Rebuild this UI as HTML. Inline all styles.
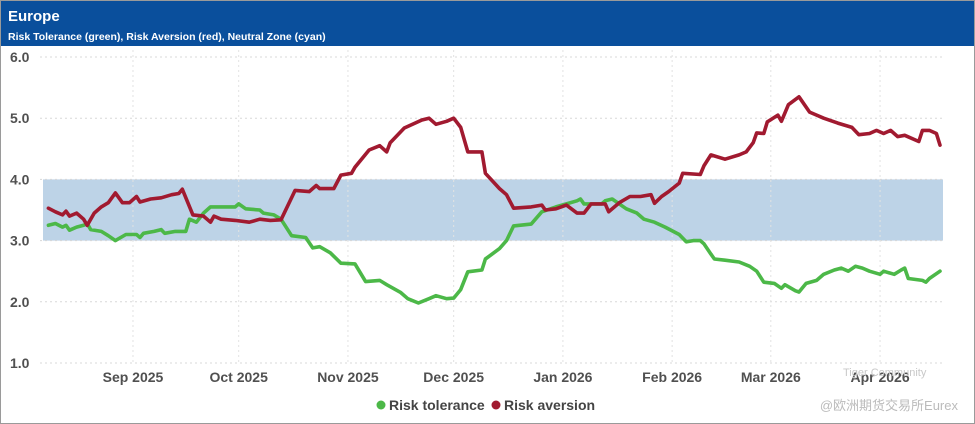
<!DOCTYPE html>
<html><head><meta charset="utf-8"><style>
body{margin:0;background:#fff;font-family:"Liberation Sans","Noto Sans CJK SC",sans-serif;}
#wrap{position:relative;width:975px;height:424px;overflow:hidden;}
</style></head><body>
<div id="wrap">
<svg id="chart" width="975" height="424"></svg>
</div>
<script>
const monthDays=[24,54,85,115,146,177,205,236];
const monthLabels=["Sep 2025","Oct 2025","Nov 2025","Dec 2025","Jan 2026","Feb 2026","Mar 2026","Apr 2026"];
const yTicks=[1,2,3,4,5,6];
const yTickLabels=["1.0","2.0","3.0","4.0","5.0","6.0"];
const neutralZone=[3,4];
const redDays=[0,2,4,5,6,8,10,11,13,15,17,19,21,23,25,26,29,32,35,37,38,41,44,46,47,49,53,57,60,63,66,70,74,76,77,81,83,86,87,91,94,96,97,101,106,108,110,113,115,117,119,123,124,128,130,132,137,140,141,144,147,150,152,154,158,159,162,165,168,171,172,174,176,179,180,185,186,188,192,196,198,200,201,203,204,207,208,210,213,216,218,220,224,228,230,233,235,237,239,241,243,247,248,250,252,253];
const redVals=[3.53,3.47,3.42,3.48,3.40,3.45,3.35,3.25,3.45,3.55,3.62,3.78,3.62,3.62,3.72,3.63,3.68,3.70,3.75,3.77,3.84,3.42,3.40,3.30,3.40,3.35,3.33,3.30,3.35,3.33,3.34,3.82,3.80,3.90,3.85,3.85,4.07,4.10,4.20,4.48,4.55,4.45,4.60,4.84,4.97,5.00,4.90,4.95,5.00,4.85,4.45,4.45,4.10,3.85,3.75,3.53,3.55,3.58,3.50,3.52,3.58,3.45,3.45,3.60,3.60,3.47,3.62,3.72,3.72,3.75,3.61,3.72,3.80,3.94,4.10,4.08,4.22,4.40,4.33,4.40,4.45,4.60,4.76,4.75,4.94,5.05,4.95,5.22,5.35,5.10,5.05,5.00,4.92,4.85,4.73,4.75,4.80,4.75,4.80,4.70,4.72,4.62,4.80,4.80,4.75,4.56];
const greenDays=[0,2,4,5,6,8,10,11,12,15,17,19,22,25,26,27,30,32,33,36,39,40,42,44,46,50,53,54,56,60,61,64,66,69,73,75,77,80,83,87,90,94,96,100,102,105,108,110,113,115,117,119,123,124,128,130,132,137,140,144,147,150,151,152,157,158,160,164,167,169,172,175,179,181,183,185,186,188,189,192,196,199,201,203,206,208,209,212,213,215,218,220,223,225,227,229,231,233,236,237,240,242,243,244,248,249,250,253];
const greenVals=[3.25,3.28,3.22,3.25,3.17,3.22,3.25,3.28,3.18,3.15,3.08,3.00,3.10,3.10,3.05,3.12,3.15,3.18,3.12,3.15,3.15,3.35,3.30,3.45,3.55,3.55,3.55,3.60,3.52,3.50,3.45,3.42,3.35,3.08,3.05,2.88,2.90,2.80,2.63,2.62,2.33,2.35,2.28,2.15,2.05,1.98,2.05,2.10,2.05,2.06,2.20,2.49,2.52,2.70,2.87,3.00,3.24,3.27,3.47,3.55,3.60,3.65,3.68,3.60,3.60,3.65,3.68,3.52,3.45,3.35,3.30,3.22,3.10,2.98,3.00,3.00,2.95,2.78,2.70,2.68,2.65,2.58,2.50,2.32,2.30,2.22,2.28,2.18,2.16,2.30,2.35,2.45,2.52,2.55,2.50,2.58,2.55,2.50,2.45,2.50,2.45,2.52,2.55,2.38,2.35,2.32,2.38,2.50];

const NS="http://www.w3.org/2000/svg";
const svg=document.getElementById('chart');
const X0=48.4,PXD=3.524,Y6=57,PXU=61.2;
const xs=d=>X0+d*PXD;
const ys=v=>Y6+(6-v)*PXU;
function mk(tag,attrs,parent){const e=document.createElementNS(NS,tag);for(const k in attrs)e.setAttribute(k,attrs[k]);(parent||svg).appendChild(e);return e;}

let e;
e=mk('rect',{x:0.5,y:0.5,width:974,height:423,fill:'#fff',stroke:'#9a9a9a'});


e=mk('rect',{x:1,y:1,width:973,height:45,fill:'#0a4f9c'});


e=mk('text',{x:8,y:21,fill:'#fff','font-size':15,'font-weight':'bold'});e.textContent='Europe';


e=mk('text',{x:8,y:40,fill:'#fff','font-size':10.5,'font-weight':'bold'});e.textContent='Risk Tolerance (green), Risk Aversion (red), Neutral Zone (cyan)';



e=mk('rect',{x:43,y:ys(neutralZone[1]),width:900,height:ys(neutralZone[0])-ys(neutralZone[1]),fill:'#bdd3e7'});



yTicks.forEach((v,i)=>{
  let g=mk('line',{x1:40,x2:945,y1:ys(v),y2:ys(v),stroke:'#d8d8d8','stroke-dasharray':'2,3'});
  
  
  let t=mk('text',{x:10,y:ys(v)+5,fill:'#505050','font-size':14,'font-weight':'bold'});t.textContent=yTickLabels[i];
  
  
});
monthDays.forEach((d,i)=>{
  let g=mk('line',{x1:xs(d),x2:xs(d),y1:50,y2:365,stroke:'#e2e2e2','stroke-dasharray':'2,3'});
  
  
  let t=mk('text',{x:xs(d),y:382,fill:'#505050','font-size':14,'font-weight':'bold','text-anchor':'middle'});t.textContent=monthLabels[i];
  
  
});
function line(days,vals,color,name){
  const p=days.map((d,i)=>xs(d).toFixed(1)+','+ys(vals[i]).toFixed(1)).join(' ');
  let l=mk('polyline',{points:p,fill:'none',stroke:color,'stroke-width':3.6,'stroke-linejoin':'round','stroke-linecap':'round'});
  
  
}
line(greenDays,greenVals,'#4cb848','risk-tolerance-line');
line(redDays,redVals,'#a11a30','risk-aversion-line');

// legend
e=mk('circle',{cx:381,cy:405,r:4.5,fill:'#4cb848'});


e=mk('text',{x:389,y:410,fill:'#444','font-size':14,'font-weight':'bold'});e.textContent='Risk tolerance';


e=mk('circle',{cx:496,cy:405,r:4.5,fill:'#a11a30'});


e=mk('text',{x:504,y:410,fill:'#444','font-size':14,'font-weight':'bold'});e.textContent='Risk aversion';



// watermark
e=mk('text',{x:843,y:376,fill:'#c8c8c8','font-size':11});e.textContent='Tiger Community';


e=mk('text',{x:958,y:410,fill:'#bbbbbb','font-size':13,'text-anchor':'end'});e.textContent='@欧洲期货交易所Eurex';


</script>
</body></html>
